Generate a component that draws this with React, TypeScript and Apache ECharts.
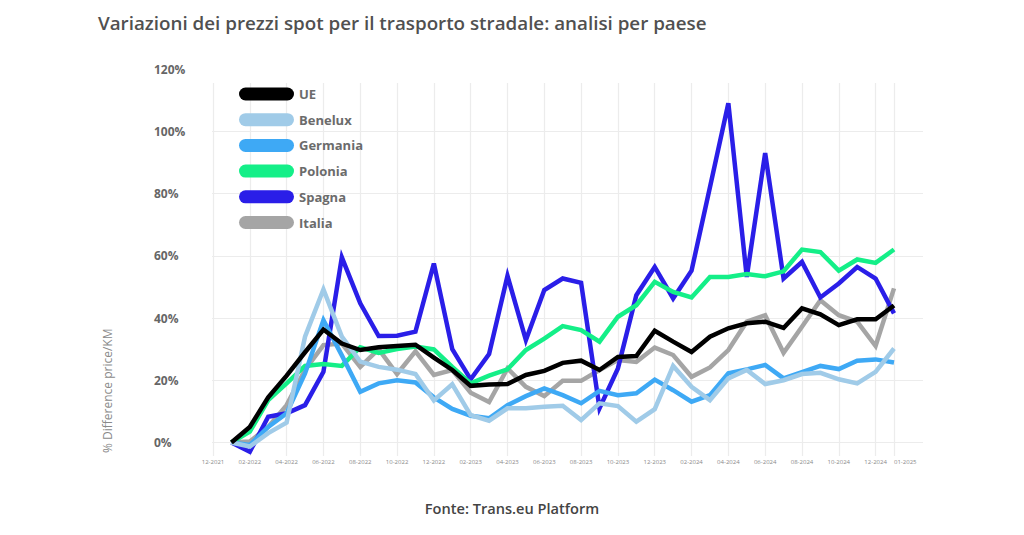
import React, { useEffect, useRef } from "react";
import * as echarts from "echarts";

const FONT = "'Open Sans', sans-serif";

const categories = [
  "12-2021", "01-2022", "02-2022", "03-2022", "04-2022", "05-2022", "06-2022", "07-2022",
  "08-2022", "09-2022", "10-2022", "11-2022", "12-2022", "01-2023", "02-2023", "03-2023",
  "04-2023", "05-2023", "06-2023", "07-2023", "08-2023", "09-2023", "10-2023", "11-2023",
  "12-2023", "01-2024", "02-2024", "03-2024", "04-2024", "05-2024", "06-2024", "07-2024",
  "08-2024", "09-2024", "10-2024", "11-2024", "12-2024", "01-2025",
];

const seriesNames = ["UE", "Benelux", "Germania", "Polonia", "Spagna", "Italia"];

const ue = [0, 5, 14.5, 21.5, 29, 36.3, 31.8, 29.7, 30.6, 31, 31.4, 27.3, 23.3, 18.2, 18.6, 18.8, 21.7, 23, 25.6, 26.3, 23.3, 27.5, 27.8, 35.9, 32.4, 29.1, 34, 36.7, 38.3, 38.8, 36.8, 43.1, 41.2, 37.7, 39.6, 39.6, 44];
const benelux = [0, -1.3, 3, 6.4, 34, 49.2, 34, 26, 24.3, 23.4, 22, 13.5, 18.7, 8.8, 7, 11, 11, 11.5, 11.8, 7.2, 12.6, 11.7, 6.7, 10.7, 24.6, 17.9, 13.6, 20.6, 23.3, 18.8, 20, 22, 22.4, 20.3, 19, 22.7, 30.2];
const germania = [0, -0.8, 5, 9.4, 22.2, 39.3, 28, 16.3, 19, 20, 19.3, 14.5, 10.8, 8.6, 7.8, 12, 14.9, 17.4, 15.2, 12.6, 16.6, 15.2, 15.8, 20.2, 16.8, 13.1, 15.2, 22.2, 23.5, 24.9, 20.6, 22.6, 24.6, 23.6, 26.3, 26.7, 25.7];
const polonia = [0, 3.5, 13.6, 19, 24.6, 25.2, 24.6, 30.6, 28.8, 30, 30.8, 29.9, 24.3, 19, 21.5, 23.5, 29.7, 33.4, 37.4, 36.1, 32.4, 40.4, 44.1, 51.6, 48.4, 46.6, 53.2, 53.2, 54.1, 53.4, 55, 62, 61.2, 55.2, 58.8, 57.7, 62];
const spagna = [0, -3, 8.3, 9.4, 12, 22.7, 59.5, 44.7, 34.2, 34.3, 35.6, 57.5, 30, 20.3, 28.4, 53.5, 32.9, 49, 52.7, 51.3, 11, 23.8, 47.3, 56.4, 46.3, 55.2, 82, 109, 53.2, 93, 52.7, 58, 46.6, 51.1, 56.4, 52.7, 41.5];
const italia = [0, 0.3, 5, 12, 23.3, 31.3, 31.8, 24.3, 30, 22, 29.3, 21.7, 23.3, 16, 13, 23.8, 17.9, 14.9, 19.8, 19.8, 23.3, 26.5, 25.9, 30.5, 28.1, 21.1, 24.1, 29.7, 38.8, 40.9, 28.8, 37.2, 45.7, 40.9, 38.8, 31, 49.5];

const seriesValues = [ue, benelux, germania, polonia, spagna, italia];
const seriesColors = ["#000000", "#a0cbe8", "#3ea9f5", "#14ef88", "#2a1ee8", "#a5a5a5"];
const seriesZ = [8, 7, 6, 5, 4, 3];

const yMin = 0;
const yMax = 120;
const yStep = 20;

const showTick = (i: number) => i % 2 === 0 || i === categories.length - 1;

const GRID_COLOR = "#ececec";

export default function App() {
  const ref = useRef<HTMLDivElement>(null);

  useEffect(() => {
    const chart = echarts.init(ref.current!, null, { renderer: "svg" });
    const option: any = {
      animation: false,
      backgroundColor: "#ffffff",
      textStyle: { fontFamily: FONT },
      title: [
        {
          text: "Variazioni dei prezzi spot per il trasporto stradale: analisi per paese",
          left: 93,
          top: 6,
          textStyle: { fontFamily: FONT, fontSize: 18.8, fontWeight: 600, color: "#505050", lineHeight: 24 },
        },
        {
          text: "Fonte: Trans.eu Platform",
          left: "center",
          top: 494,
          textStyle: { fontFamily: FONT, fontSize: 14.6, fontWeight: 600, color: "#444444", lineHeight: 18 },
        },
      ],
      legend: {
        data: seriesNames,
        orient: "vertical",
        left: 239,
        top: 87.5,
        padding: 0,
        itemWidth: 55,
        itemHeight: 13,
        itemGap: 12.7,
        icon: "path://M6.5,0L48.5,0A6.5,6.5,0,0,1,48.5,13L6.5,13A6.5,6.5,0,0,1,6.5,0Z",
        textStyle: { fontFamily: FONT, fontSize: 13, fontWeight: "bold", color: "#6b6b6b", lineHeight: 13 },
      },
      graphic: [
        {
          type: "text",
          x: 107,
          y: 453,
          rotation: Math.PI / 2,
          style: {
            text: "% Difference price/KM",
            fontFamily: FONT,
            fontSize: 12,
            fill: "#8a8a8a",
            textAlign: "left",
            textVerticalAlign: "middle",
          },
        },
      ],
      grid: [
        { left: 213, right: 130, top: 69, bottom: 92.5 },
        { left: 212, right: 101, top: 69, bottom: 92.5 },
        { left: 213, right: 130, top: 83, bottom: 79 },
      ],
      xAxis: [
        {
          gridIndex: 0,
          type: "category",
          data: categories,
          boundaryGap: false,
          axisLine: { show: false },
          axisTick: { show: false },
          splitLine: { show: false },
          axisLabel: {
            interval: (i: number) => showTick(i),
            margin: 16,
            fontFamily: FONT,
            fontSize: 6,
            color: "#8a8a8a",
            alignMaxLabel: "left",
          },
        },
        { gridIndex: 1, type: "value", show: false, min: 0, max: 1 },
        {
          gridIndex: 2,
          type: "category",
          data: categories,
          boundaryGap: false,
          axisLine: { show: false },
          axisTick: { show: false },
          axisLabel: { show: false },
          splitLine: {
            show: true,
            interval: (i: number) => showTick(i),
            lineStyle: { color: GRID_COLOR, width: 1.2 },
          },
        },
      ],
      yAxis: [
        {
          gridIndex: 0,
          type: "value",
          min: yMin,
          max: yMax,
          interval: yStep,
          axisLine: { show: false },
          axisTick: { show: false },
          splitLine: { show: false },
          axisLabel: {
            formatter: "{value}%",
            align: "left",
            margin: 59,
            fontFamily: FONT,
            fontSize: 12,
            fontWeight: "bold",
            color: "#666666",
          },
        },
        {
          gridIndex: 1,
          type: "value",
          min: yMin,
          max: yMax,
          interval: yStep,
          axisLine: { show: false },
          axisTick: { show: false },
          axisLabel: { show: false },
          splitLine: { show: true, showMaxLine: false, lineStyle: { color: GRID_COLOR, width: 1.2 } },
        },
        { gridIndex: 2, type: "value", show: false, min: 0, max: 1 },
      ],
      series: seriesNames.map((name, k) => ({
        name,
        type: "line",
        xAxisIndex: 0,
        yAxisIndex: 0,
        data: [null, ...seriesValues[k]],
        symbol: "none",
        clip: false,
        z: seriesZ[k],
        color: seriesColors[k],
        lineStyle: { color: seriesColors[k], width: 4.5, join: "miter" },
      })),
    };
    chart.setOption(option);
    return () => chart.dispose();
  }, []);

  return (
    <div
      ref={ref}
      style={{ position: "absolute", left: 0, top: 0, width: 1024, height: 535, background: "#ffffff" }}
    />
  );
}
